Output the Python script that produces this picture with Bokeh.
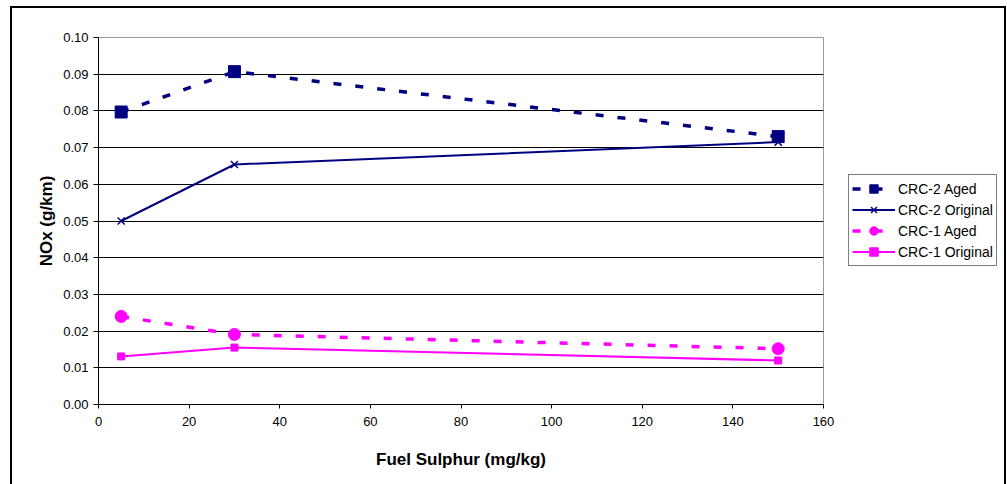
from bokeh.plotting import figure
from bokeh.layouts import row
from bokeh.models import Legend, LegendItem, FixedTicker, PrintfTickFormatter, Range1d
from bokeh.embed import file_html
from bokeh.resources import INLINE

# ---- data ----
sulphur = [5, 30, 150]
crc2_aged = [0.0797, 0.0907, 0.0730]
crc2_orig = [0.0500, 0.0654, 0.0715]
crc1_aged = [0.0240, 0.0191, 0.0152]
crc1_orig = [0.0131, 0.0155, 0.0120]

series_labels = ["CRC-2 Aged", "CRC-2 Original", "CRC-1 Aged", "CRC-1 Original"]

x_ticks = [0, 20, 40, 60, 80, 100, 120, 140, 160]
y_ticks = [0.00, 0.01, 0.02, 0.03, 0.04, 0.05, 0.06, 0.07, 0.08, 0.09, 0.10]
y_grid_ticks = y_ticks[1:-1]

NAVY = "#000080"
MAGENTA = "#FF00FF"
FONT = "Liberation Sans"

styles_ = [
    dict(color=NAVY, width=3.5, dash="8 14", marker="square", size=12),
    dict(color=NAVY, width=2, dash="solid", marker="x", size=10),
    dict(color=MAGENTA, width=3.5, dash="8 14", marker="circle", size=12),
    dict(color=MAGENTA, width=2, dash="solid", marker="square", size=7),
]
all_series = [crc2_aged, crc2_orig, crc1_aged, crc1_orig]


def draw_series(fig, xs, ys, st):
    lr = fig.line(xs, ys, line_color=st["color"], line_width=st["width"], line_dash=st["dash"])
    if st["marker"] == "x":
        mr = fig.scatter(xs, ys, marker="x", size=st["size"], line_color=st["color"], line_width=1.5)
    else:
        mr = fig.scatter(xs, ys, marker=st["marker"], size=st["size"],
                         fill_color=st["color"], line_color=st["color"])
    return lr, mr


p = figure(width=825, height=476, output_backend="svg", toolbar_location=None,
           x_range=Range1d(0, 160), y_range=Range1d(0, 0.10),
           min_border_left=86, min_border_right=14, min_border_top=29, min_border_bottom=80)

p.background_fill_color = "white"
p.border_fill_color = "white"
p.outline_line_color = "#999999"
p.outline_line_width = 1

p.xgrid.visible = False
p.ygrid.ticker = FixedTicker(ticks=y_grid_ticks)
p.ygrid.grid_line_color = "#000000"
p.ygrid.grid_line_width = 1

p.xaxis.ticker = FixedTicker(ticks=x_ticks)
p.yaxis.ticker = FixedTicker(ticks=y_ticks)
p.yaxis.formatter = PrintfTickFormatter(format="%.2f")

for ax in (p.xaxis[0], p.yaxis[0]):
    ax.axis_line_color = "black"
    ax.axis_line_width = 1
    ax.major_tick_line_color = "black"
    ax.major_tick_in = 0
    ax.minor_tick_line_color = None
    ax.major_label_text_font = FONT
    ax.major_label_text_font_size = "13px"
    ax.major_label_text_color = "black"
    ax.axis_label_text_font = FONT
    ax.axis_label_text_font_size = "17px"
    ax.axis_label_text_font_style = "bold"
    ax.axis_label_text_color = "black"

p.xaxis.major_tick_out = 4
p.yaxis.major_tick_out = 5
p.xaxis.major_label_standoff = 8
p.yaxis.major_label_standoff = 5
p.xaxis.axis_label = "Fuel Sulphur (mg/kg)"
p.yaxis.axis_label = "NOx (g/km)"
p.xaxis.axis_label_standoff = 21
p.yaxis.axis_label_standoff = 4

for ys, st in zip(all_series, styles_):
    draw_series(p, sulphur, ys, st)

# legend panel: a separate figure to the right of the plot area; its copies of the
# series lie outside its (empty) ranges, so only the legend box is visible there
lf = figure(width=167, height=476, output_backend="svg", toolbar_location=None,
            x_axis_type=None, y_axis_type=None,
            x_range=Range1d(-2, -1), y_range=Range1d(-2, -1),
            min_border_left=0, min_border_right=0, min_border_top=0, min_border_bottom=0)
lf.outline_line_color = None
lf.grid.visible = False
lf.background_fill_color = "white"
lf.border_fill_color = "white"

items = []
for lab, ys, st in zip(series_labels, all_series, styles_):
    lr, mr = draw_series(lf, sulphur, ys, st)
    items.append(LegendItem(label=lab, renderers=[lr, mr]))

legend = Legend(items=items, location=(11, 138))
legend.label_text_font = FONT
legend.label_text_font_size = "14px"
legend.label_text_color = "black"
legend.glyph_width = 43
legend.glyph_height = 21
legend.label_height = 21
legend.label_standoff = 3
legend.spacing = 0
legend.padding = 3
legend.margin = 0
legend.border_line_color = "black"
legend.border_line_width = 1
legend.background_fill_color = "white"
legend.background_fill_alpha = 1
lf.add_layout(legend, "center")

layout = row(p, lf, margin=(8, 0, 0, 12), styles={"outline": "2px solid black"})

open("out.html", "w").write(file_html(layout, INLINE))
